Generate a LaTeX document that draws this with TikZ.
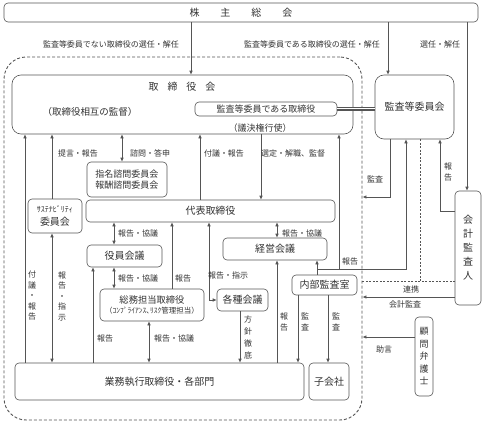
\documentclass[tikz,border=0pt]{standalone}
\usepackage{fontspec}
\setmainfont{Noto Sans CJK JP}
\usetikzlibrary{arrows.meta}
\definecolor{linegray}{RGB}{85,85,85}
\definecolor{textgray}{RGB}{50,50,50}

\begin{document}
\begin{tikzpicture}[x=1pt,y=-1pt,line width=0.6pt,color=linegray,text=textgray,
    box/.style={draw,rounded corners=4pt,inner sep=0pt,align=center,font=\fontsize{10}{13}\selectfont},
    lbl/.style={inner sep=0pt,align=center,font=\fontsize{8}{10.5}\selectfont},
    arr/.style={-{Latex[length=4pt,width=3.5pt]}},
    darr/.style={{Latex[length=4pt,width=3.5pt]}-{Latex[length=4pt,width=3.5pt]}},
    dotline/.style={dash pattern=on 2pt off 1.5pt,line width=0.5pt}]
    \useasboundingbox (0,0) rectangle (483,423);

% top
    \node[box,minimum width=474pt,minimum height=19pt] (soukai) at (241,12.5)
        {株\hspace{21pt}主\hspace{21pt}総\hspace{21pt}会};
    \node[lbl] (lsen1) at (111,44) {監査等委員でない取締役の選任・解任};
    \node[lbl] (lsen2) at (312,44) {監査等委員である取締役の選任・解任};
    \node[lbl] (lsen3) at (440,44) {選任・解任};

% group frame
    \node[draw,dash pattern=on 3pt off 2pt,line width=0.9pt,rounded corners=22pt,
        minimum width=358pt,minimum height=363pt] (group) at (183,238.5) {};

% board
    \node[box,rounded corners=9pt,minimum width=341pt,minimum height=59pt] (torikai) at (182.5,104.5) {};
    \node[lbl,font=\fontsize{10}{12}\selectfont] (torikaiT) at (182,87)
        {取\hspace{9pt}締\hspace{9pt}役\hspace{9pt}会};
    \node[lbl,font=\fontsize{9.5}{12}\selectfont] (sougo) at (90,112) {（取締役相互の監督）};
    \node[box,minimum width=142pt,minimum height=14pt,font=\fontsize{9}{11}\selectfont] (kansatori) at (266,109)
        {監査等委員である取締役};
    \node[lbl,font=\fontsize{9}{11}\selectfont] (giketsu) at (260,128) {（議決権行使）};

% audit side
    \node[box,rounded corners=9pt,minimum width=79pt,minimum height=64pt] (kansakai) at (414.5,107) {監査等委員会};
    \node[box,minimum width=26pt,minimum height=114pt,font=\fontsize{10}{14}\selectfont] (kaikei) at (468,248)
        {会\\計\\監\\査\\人};
    \node[box,minimum width=18pt,minimum height=79pt,font=\fontsize{9}{12.5}\selectfont] (komon) at (424,356.5)
        {顧\\問\\弁\\護\\士};

% executive side
    \node[box,minimum width=80pt,minimum height=35pt,font=\fontsize{9}{11.5}\selectfont] (shimei) at (127,179.5)
        {指名諮問委員会\\報酬諮問委員会};
    \node[box,minimum width=54pt,minimum height=34pt] (sustain) at (55,216)
        {{\fontsize{8}{10}\selectfont ｻｽﾃﾅﾋﾞﾘﾃｨ}\\委員会};
    \node[box,minimum width=249pt,minimum height=22pt] (daihyo) at (210.5,211) {代表取締役};
    \node[box,minimum width=75pt,minimum height=22pt] (yakuin) at (124.5,256) {役員会議};
    \node[box,minimum width=104pt,minimum height=22pt] (keiei) at (275,249) {経営会議};
    \node[box,minimum width=65pt,minimum height=20pt] (naibu) at (324.5,285) {内部監査室};
    \node[box,minimum width=104pt,minimum height=32pt,font=\fontsize{9.3}{10.5}\selectfont] (soumu) at (152,305)
        {総務担当取締役\\{\fontsize{7.5}{9}\selectfont （ｺﾝﾌﾟﾗｲｱﾝｽ､ﾘｽｸ管理担当）}};
    \node[box,minimum width=51pt,minimum height=22pt] (kakushu) at (242.5,300) {各種会議};
    \node[box,minimum width=289pt,minimum height=37pt] (gyomu) at (159.5,381.5) {業務執行取締役・各部門};
    \node[box,minimum width=40pt,minimum height=37pt] (kogaisha) at (329,381.5) {子会社};

% shareholders
    \draw[arr] (soukai.south -| 191,0) -- (torikai.north -| 191,0);
    \draw[arr] (soukai.south -| 388,0) -- (kansakai.north -| 388,0);
    \draw[arr] (soukai.south -| 467,0) -- (kaikei.north -| 467,0);
    \draw[double,double distance=2pt] (kansatori.east) -- (kansatori.east -| kansakai.west);
    \draw (kansatori.east) -- (kansatori.east -| kansakai.west);

% board links
    \draw[arr] (gyomu.north -| 25,0) -- (torikai.south -| 25,0);
    \draw[arr] (sustain.north -| 52,0) -- (torikai.south -| 52,0);
    \draw[darr] (torikai.south -| 122,0) -- (shimei.north -| 122,0);
    \draw[arr] (daihyo.north -| 200,0) -- (torikai.south -| 200,0);
    \draw[arr] (torikai.south -| 261,0) -- (daihyo.north -| 261,0);
    \node[lbl] (lteigen) at (78,153) {提言・報告};
    \node[lbl] (lshimon) at (150,153) {諮問・答申};
    \node[lbl] (lfugi1) at (224,153) {付議・報告};
    \node[lbl] (lsentei) at (293,153) {選定・解職、監督};
    \node[lbl] (lfugi2) at (32,296) {付\\議\\・\\報\\告};
    \node[lbl] (lshiji1) at (62,296) {報\\告\\・\\指\\示};

% executive links
    \draw[darr] (sustain.south -| 52,0) -- (gyomu.north -| 52,0);
    \draw[darr] (daihyo.south -| 114,0) -- (yakuin.north -| 114,0);
    \draw[darr] (yakuin.south -| 114,0) -- (soumu.north -| 114,0);
    \draw[arr] (soumu.north -| 172,0) -- (daihyo.south -| 172,0);
    \draw[darr] (daihyo.south -| 209,0) |- (kakushu.west);
    \draw[darr] (daihyo.south -| 277,0) -- (keiei.north -| 277,0);
    \draw[arr] (gyomu.north -| 277,0) -- (keiei.south -| 277,0);
    \draw[arr] (gyomu.north -| 93,0) -- (yakuin.south -| 93,0);
    \draw[darr] (soumu.south -| 149,0) -- (gyomu.north -| 149,0);
    \draw[arr] (kakushu.south -| 240,0) -- (gyomu.north -| 240,0);
    \draw[arr] (naibu.south -| 298,0) -- (gyomu.north -| 298,0);
    \draw[arr] (naibu.south -| 328,0) -- (kogaisha.north -| 328,0);
    \node[lbl] (lkyo1) at (138,233) {報告・協議};
    \node[lbl] (lkyo2) at (302,233) {報告・協議};
    \node[lbl] (lkyo3) at (138,278) {報告・協議};
    \node[lbl] (lhou1) at (183,278) {報告};
    \node[lbl] (lshiji2) at (228,275) {報告・指示};
    \node[lbl] (lhou2) at (105,338) {報告};
    \node[lbl] (lkyo4) at (174,338) {報告・協議};
    \node[lbl,font=\fontsize{8}{12}\selectfont] (lhoshin) at (248,337) {方\\針\\徹\\底};
    \node[lbl] (lhou3) at (284,322) {報\\告};
    \node[lbl] (lkan1) at (305,322) {監\\査};
    \node[lbl] (lkan2) at (336,322) {監\\査};

% internal audit
    \coordinate (j1) at (317,269);
    \draw (naibu.north -| j1) -- (j1);
    \draw[arr] (j1) -- (keiei.south -| j1);
    \draw[arr] (j1) -| (torikai.south -| 339,0);
    \draw[arr] (j1) -| (kansakai.south -| 406,0);
    \node[lbl] (lhou4) at (350,261) {報告};

% audit links
    \draw[arr] (kansakai.south -| 390,0) |- (group.east |- 0,197);
    \draw[dotline] (kansakai.south -| 420,0) -- (420,281);
    \draw[dotline] (group.east |- 0,281) -- (kaikei.west |- 0,281);
    \draw[arr] (kaikei.west |- 0,297) -- (group.east |- 0,297);
    \draw[arr] (kaikei.west |- 0,211) -| (kansakai.south -| 440,0);
    \draw[arr] (komon.west |- 0,337) -- (group.east |- 0,337);
    \node[lbl] (lkansa) at (375,179) {監査};
    \node[lbl] (lhou5) at (448,172) {報\\告};
    \node[lbl] (lrenkei) at (411,289) {連携};
    \node[lbl] (lkaikei) at (405,304) {会計監査};
    \node[lbl] (ljogen) at (384,349) {助言};

\end{tikzpicture}
\end{document}
